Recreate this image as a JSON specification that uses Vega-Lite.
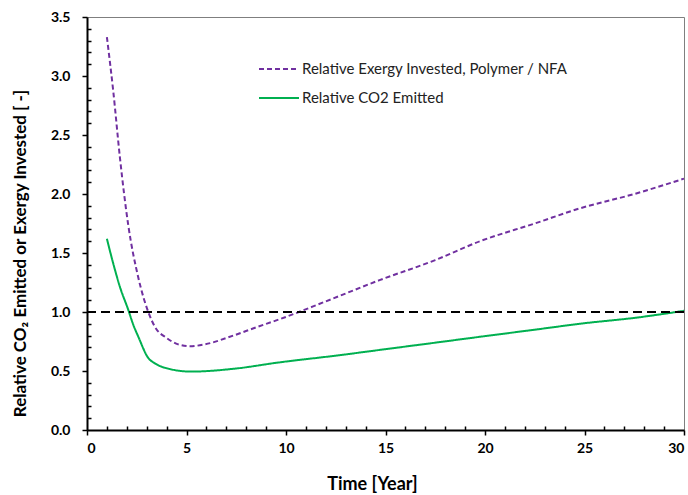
{
  "$schema": "https://vega.github.io/schema/vega-lite/v6.json",
  "width": 597,
  "height": 413,
  "autosize": "none",
  "padding": {"left": 87, "top": 17, "right": 4, "bottom": 65},
  "config": {
    "font": "Lato",
    "view": {"stroke": "#7f7f7f", "strokeWidth": 1},
    "axis": {"grid": false}
  },
  "encoding": {
    "y": {
      "field": "v", "type": "quantitative",
      "scale": {"domain": [0, 3.5], "nice": false},
      "axis": {
        "title": "Relative CO₂ Emitted or Exergy Invested [ -]",
        "values": [0,0.1,0.2,0.3,0.4,0.5,0.6,0.7,0.8,0.9,1.0,1.1,1.2,1.3,1.4,1.5,1.6,1.7,1.8,1.9,2.0,2.1,2.2,2.3,2.4,2.5,2.6,2.7,2.8,2.9,3.0,3.1,3.2,3.3,3.4,3.5],
        "labelExpr": "round(datum.value * 10) % 5 == 0 ? format(datum.value, '.1f') : ''",
        "labelOverlap": false,
        "tickSize": {"condition": {"test": "round(datum.value * 10) % 5 == 0", "value": 5}, "value": -4},
        "tickColor": "black",
        "tickWidth": 1.5,
        "domainColor": "black",
        "domainWidth": 2,
        "labelFont": "Lato",
        "labelFontWeight": "bold",
        "labelFontSize": 14,
        "labelColor": "black",
        "labelPadding": 12,
        "titleFont": "Lato",
        "titleFontWeight": "bold",
        "titleFontSize": 17,
        "titleColor": "black",
        "titleX": -67,
        "titleY": 236,
        "titleAngle": 270,
        "titleBaseline": "middle"
      }
    }
  },
  "layer": [
    {
      "data": {
        "values": [
          {"t": 1.0, "v": 3.33, "s": "Relative Exergy Invested, Polymer / NFA"},
          {"t": 1.32, "v": 2.87, "s": "Relative Exergy Invested, Polymer / NFA"},
          {"t": 1.66, "v": 2.3, "s": "Relative Exergy Invested, Polymer / NFA"},
          {"t": 2.07, "v": 1.74, "s": "Relative Exergy Invested, Polymer / NFA"},
          {"t": 2.58, "v": 1.29, "s": "Relative Exergy Invested, Polymer / NFA"},
          {"t": 3.08, "v": 1.0, "s": "Relative Exergy Invested, Polymer / NFA"},
          {"t": 3.41, "v": 0.875, "s": "Relative Exergy Invested, Polymer / NFA"},
          {"t": 4.0, "v": 0.78, "s": "Relative Exergy Invested, Polymer / NFA"},
          {"t": 4.58, "v": 0.726, "s": "Relative Exergy Invested, Polymer / NFA"},
          {"t": 5.17, "v": 0.71, "s": "Relative Exergy Invested, Polymer / NFA"},
          {"t": 5.93, "v": 0.726, "s": "Relative Exergy Invested, Polymer / NFA"},
          {"t": 7.35, "v": 0.8, "s": "Relative Exergy Invested, Polymer / NFA"},
          {"t": 8.5, "v": 0.87, "s": "Relative Exergy Invested, Polymer / NFA"},
          {"t": 9.7, "v": 0.94, "s": "Relative Exergy Invested, Polymer / NFA"},
          {"t": 12.0, "v": 1.09, "s": "Relative Exergy Invested, Polymer / NFA"},
          {"t": 14.7, "v": 1.27, "s": "Relative Exergy Invested, Polymer / NFA"},
          {"t": 17.5, "v": 1.44, "s": "Relative Exergy Invested, Polymer / NFA"},
          {"t": 19.75, "v": 1.6, "s": "Relative Exergy Invested, Polymer / NFA"},
          {"t": 22.5, "v": 1.75, "s": "Relative Exergy Invested, Polymer / NFA"},
          {"t": 24.8, "v": 1.88, "s": "Relative Exergy Invested, Polymer / NFA"},
          {"t": 27.5, "v": 2.0, "s": "Relative Exergy Invested, Polymer / NFA"},
          {"t": 30.0, "v": 2.13, "s": "Relative Exergy Invested, Polymer / NFA"},
          {"t": 1.0, "v": 1.62, "s": "Relative CO2 Emitted"},
          {"t": 1.32, "v": 1.41, "s": "Relative CO2 Emitted"},
          {"t": 1.66, "v": 1.21, "s": "Relative CO2 Emitted"},
          {"t": 2.07, "v": 1.02, "s": "Relative CO2 Emitted"},
          {"t": 2.33, "v": 0.89, "s": "Relative CO2 Emitted"},
          {"t": 2.58, "v": 0.79, "s": "Relative CO2 Emitted"},
          {"t": 3.08, "v": 0.61, "s": "Relative CO2 Emitted"},
          {"t": 3.41, "v": 0.565, "s": "Relative CO2 Emitted"},
          {"t": 4.08, "v": 0.52, "s": "Relative CO2 Emitted"},
          {"t": 5.25, "v": 0.495, "s": "Relative CO2 Emitted"},
          {"t": 7.43, "v": 0.52, "s": "Relative CO2 Emitted"},
          {"t": 9.7, "v": 0.574, "s": "Relative CO2 Emitted"},
          {"t": 12.5, "v": 0.63, "s": "Relative CO2 Emitted"},
          {"t": 15.0, "v": 0.685, "s": "Relative CO2 Emitted"},
          {"t": 17.5, "v": 0.74, "s": "Relative CO2 Emitted"},
          {"t": 19.75, "v": 0.79, "s": "Relative CO2 Emitted"},
          {"t": 22.5, "v": 0.85, "s": "Relative CO2 Emitted"},
          {"t": 25.0, "v": 0.905, "s": "Relative CO2 Emitted"},
          {"t": 27.5, "v": 0.95, "s": "Relative CO2 Emitted"},
          {"t": 30.0, "v": 1.01, "s": "Relative CO2 Emitted"}
        ]
      },
      "mark": {"type": "line", "strokeWidth": 2, "interpolate": "monotone"},
      "encoding": {
        "x": {
          "field": "t", "type": "quantitative",
          "scale": {"domain": [0, 30], "nice": false},
          "axis": {
            "title": "Time [Year]",
            "values": [0,1,2,3,4,5,6,7,8,9,10,11,12,13,14,15,16,17,18,19,20,21,22,23,24,25,26,27,28,29,30],
            "labelExpr": "datum.value % 5 == 0 ? datum.label : ''",
            "labelOverlap": false,
            "tickSize": {"condition": {"test": "datum.value % 5 == 0", "value": 5}, "value": -4},
            "tickColor": "black",
            "tickWidth": 1.5,
            "domainColor": "black",
            "domainWidth": 2,
            "labelFont": "Lato",
            "labelFontWeight": "bold",
            "labelFontSize": 14,
            "labelColor": "black",
            "labelPadding": 6,
            "titleFont": "Lato",
            "titleFontWeight": "bold",
            "titleFontSize": 18,
            "titleColor": "black",
            "titleX": 285,
            "titleY": 54,
            "titleBaseline": "middle"
          }
        },
        "color": {
          "field": "s", "type": "nominal",
          "scale": {
            "domain": ["Relative Exergy Invested, Polymer / NFA", "Relative CO2 Emitted"],
            "range": ["#7030A0", "#00B050"]
          },
          "legend": {
            "title": null,
            "orient": "none",
            "legendX": 171,
            "legendY": 31,
            "symbolType": "stroke",
            "symbolSize": 1600,
            "symbolStrokeWidth": 2,
            "labelFont": "Lato",
            "labelFontSize": 15,
            "labelColor": "#222",
            "labelLimit": 400,
            "labelOffset": 2,
            "rowPadding": -2
          }
        },
        "strokeDash": {
          "field": "s", "type": "nominal",
          "scale": {
            "domain": ["Relative Exergy Invested, Polymer / NFA", "Relative CO2 Emitted"],
            "range": [[5, 3], [1, 0]]
          },
          "legend": null
        }
      }
    },
    {
      "data": {"values": [{"v": 1}]},
      "mark": {"type": "rule", "color": "black", "strokeWidth": 2, "strokeDash": [9, 5]}
    }
  ]
}
